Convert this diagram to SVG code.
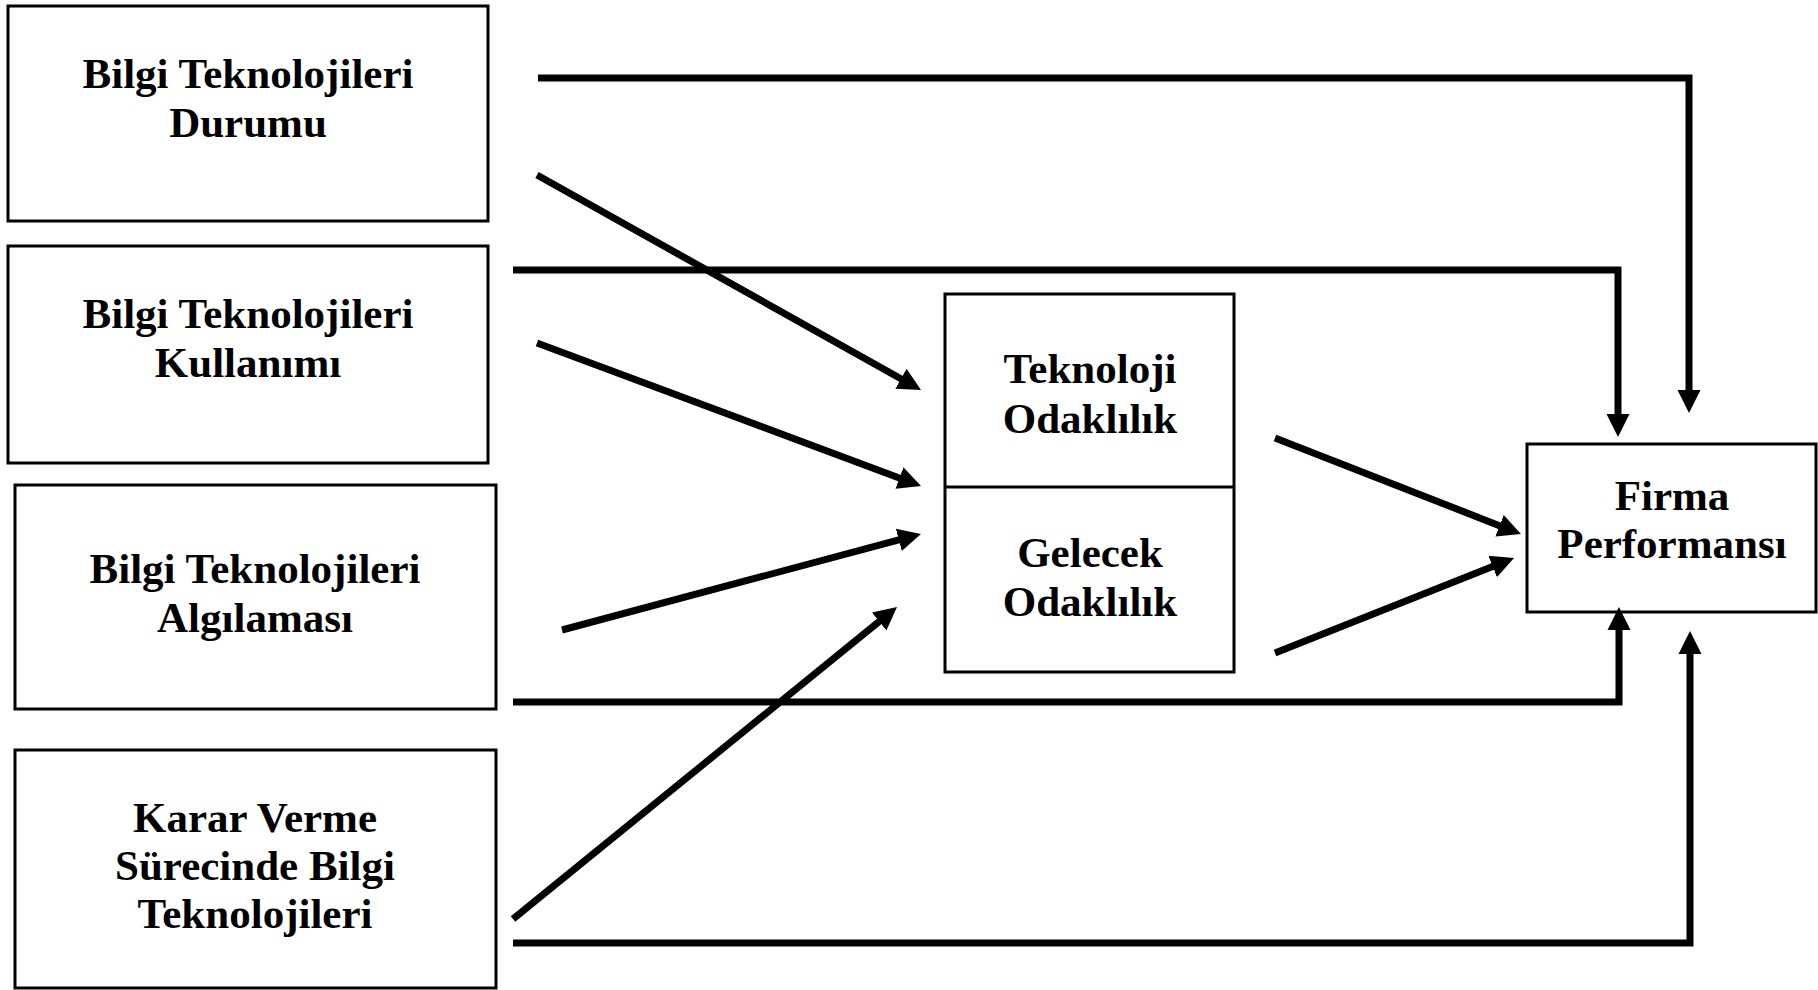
<svg xmlns="http://www.w3.org/2000/svg" width="1818" height="990" viewBox="0 0 1818 990">
<style>
.box{fill:#fff;stroke:#000;stroke-width:3}
.t{font-family:"Liberation Serif","Times New Roman",serif;font-weight:bold;font-size:43px;fill:#000;text-anchor:middle}
.c{fill:none;stroke:#000;stroke-width:7;stroke-linejoin:miter}
</style>
<defs>
<marker id="ah" markerUnits="userSpaceOnUse" viewBox="0 -15 30 30" markerWidth="30" markerHeight="30" refX="2" refY="0" orient="auto">
<path d="M0,-11.5 L23,0 L0,11.5 Z" fill="#000"/>
</marker>
</defs>
<rect width="1818" height="990" fill="#fff"/>
<g id="n1">
<rect class="box" x="8" y="6" width="480" height="215"/>
<text class="t" x="248" y="88">Bilgi Teknolojileri</text>
<text class="t" x="248" y="137">Durumu</text>
</g>
<g id="n2">
<rect class="box" x="8" y="246" width="480" height="217"/>
<text class="t" x="248" y="328">Bilgi Teknolojileri</text>
<text class="t" x="248" y="377">Kullanımı</text>
</g>
<g id="n3">
<rect class="box" x="15" y="485" width="481" height="224"/>
<text class="t" x="255" y="583">Bilgi Teknolojileri</text>
<text class="t" x="255" y="632">Algılaması</text>
</g>
<g id="n4">
<rect class="box" x="15" y="750" width="481" height="238"/>
<text class="t" x="255" y="832">Karar Verme</text>
<text class="t" x="255" y="880">Sürecinde Bilgi</text>
<text class="t" x="255" y="928">Teknolojileri</text>
</g>
<g id="n5">
<rect class="box" x="945" y="294" width="289" height="378"/>
<line x1="945" y1="487" x2="1234" y2="487" stroke="#000" stroke-width="3"/>
<text class="t" x="1090" y="383">Teknoloji</text>
<text class="t" x="1090" y="433">Odaklılık</text>
<text class="t" x="1090" y="567">Gelecek</text>
<text class="t" x="1090" y="616">Odaklılık</text>
</g>
<g id="n6">
<rect class="box" x="1527" y="444" width="289" height="168"/>
<text class="t" x="1672" y="510">Firma</text>
<text class="t" x="1672" y="558">Performansı</text>
</g>
<g id="connectors">
<path class="c" d="M538,78 H1689 V392" marker-end="url(#ah)"/>
<path class="c" d="M513,270 H1618 V416" marker-end="url(#ah)"/>
<path class="c" d="M513,702 H1619 V628" marker-end="url(#ah)"/>
<path class="c" d="M513,943 H1690 V652" marker-end="url(#ah)"/>
<path class="c" d="M537,175 L902.7,379.7" marker-end="url(#ah)"/>
<path class="c" d="M537,343 L901.3,478.7" marker-end="url(#ah)"/>
<path class="c" d="M562,630 L900.7,539.4" marker-end="url(#ah)"/>
<path class="c" d="M513,919 L880.7,620.2" marker-end="url(#ah)"/>
<path class="c" d="M1275,438 L1501.4,526.4" marker-end="url(#ah)"/>
<path class="c" d="M1275,653 L1494.5,565.8" marker-end="url(#ah)"/>
</g>
</svg>
